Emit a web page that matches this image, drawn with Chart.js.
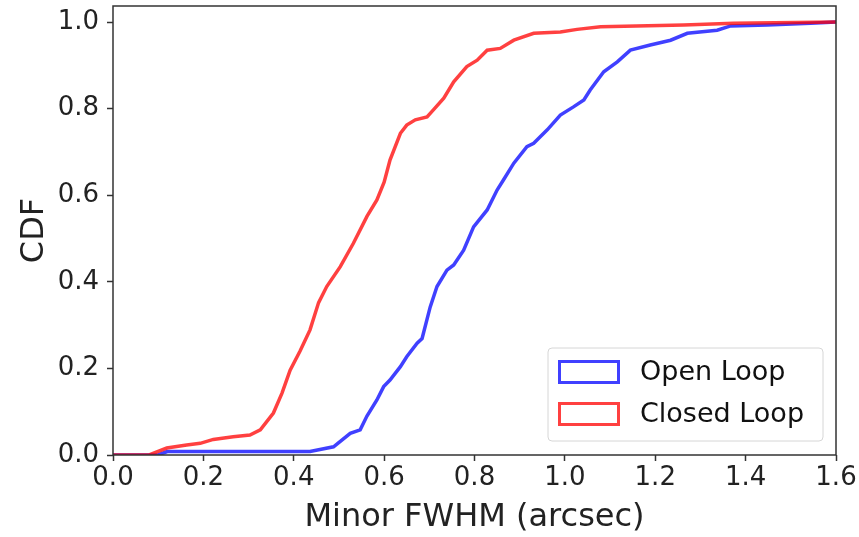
<!DOCTYPE html>
<html>
<head>
<meta charset="utf-8">
<script src="https://cdn.jsdelivr.net/npm/chart.js@4/dist/chart.umd.min.js"></script>
<style>
  body { margin: 0; background: #fff; }
  canvas { display: block; }
</style>
</head>
<body>
<canvas id="cdfChart" width="859" height="537"></canvas>
<script>
// values
let openLoopX = [0, 0.10, 0.12, 0.436, 0.488, 0.525, 0.547, 0.562, 0.584, 0.599, 0.613, 0.636, 0.650, 0.673, 0.684, 0.702, 0.717, 0.739, 0.754, 0.776, 0.798, 0.828, 0.850, 0.864, 0.887, 0.916, 0.931, 0.961, 0.990, 1.019, 1.042, 1.056, 1.086, 1.116, 1.145, 1.189, 1.234, 1.271, 1.337, 1.367, 1.448, 1.544, 1.60];
let openLoopCdf = [0, 0, 0.008, 0.008, 0.019, 0.050, 0.058, 0.090, 0.127, 0.158, 0.173, 0.204, 0.227, 0.258, 0.269, 0.342, 0.389, 0.427, 0.439, 0.473, 0.527, 0.566, 0.612, 0.635, 0.674, 0.712, 0.720, 0.751, 0.785, 0.804, 0.820, 0.843, 0.885, 0.908, 0.935, 0.947, 0.958, 0.974, 0.981, 0.991, 0.993, 0.997, 1.0];

let closedLoopX = [0, 0.08, 0.119, 0.163, 0.193, 0.222, 0.266, 0.303, 0.326, 0.355, 0.374, 0.392, 0.414, 0.436, 0.455, 0.473, 0.503, 0.532, 0.562, 0.584, 0.600, 0.613, 0.636, 0.650, 0.669, 0.695, 0.709, 0.732, 0.754, 0.783, 0.806, 0.828, 0.857, 0.887, 0.931, 0.990, 1.027, 1.079, 1.263, 1.373, 1.60];
let closedLoopCdf = [0, 0, 0.016, 0.023, 0.027, 0.036, 0.042, 0.046, 0.058, 0.097, 0.143, 0.196, 0.240, 0.289, 0.352, 0.389, 0.435, 0.489, 0.551, 0.589, 0.630, 0.681, 0.743, 0.762, 0.774, 0.781, 0.797, 0.824, 0.862, 0.897, 0.912, 0.935, 0.939, 0.958, 0.974, 0.977, 0.983, 0.989, 0.993, 0.997, 1.0];

let xTicks = [0, 0.2, 0.4, 0.6, 0.8, 1.0, 1.2, 1.4, 1.6];
let yTicks = [0, 0.2, 0.4, 0.6, 0.8, 1.0];

const FONT = "'DejaVu Sans', sans-serif";

function toPoints(xs, ys) {
    return xs.map((x, i) => ({ x: x, y: ys[i] }));
}

// matplotlib style frame round the plot area
const framePlugin = {
    id: 'frame',
    afterDraw(chart) {
        const { ctx, chartArea: a } = chart;
        ctx.save();
        ctx.strokeStyle = '#333';
        ctx.lineWidth = 1.5;
        ctx.strokeRect(a.left, a.top, a.right - a.left, a.bottom - a.top);
        ctx.restore();
    }
};

// legend box in the lower right corner, inside the axes
const insideLegend = {
    id: 'insideLegend',
    afterDraw(chart) {
        const ctx = chart.ctx;
        const bx = 548, by = 348, bw = 275, bh = 93;
        ctx.save();
        ctx.beginPath();
        ctx.roundRect(bx, by, bw, bh, 4);
        ctx.fillStyle = 'rgba(255,255,255,0.8)';
        ctx.fill();
        ctx.strokeStyle = '#d6d6d6';
        ctx.lineWidth = 1;
        ctx.stroke();

        ctx.font = '27px ' + FONT;
        ctx.textBaseline = 'middle';
        chart.data.datasets.forEach((ds, i) => {
            const cy = 372 + i * 42;
            ctx.strokeStyle = ds.borderColor;
            ctx.lineWidth = 3;
            ctx.strokeRect(559.5, cy - 10.5, 59, 21);
            ctx.fillStyle = '#111';
            ctx.fillText(ds.label, 640, cy + 1);
        });
        ctx.restore();
    }
};

const ctx = document.getElementById('cdfChart').getContext('2d');
const chart = new Chart(ctx, {
    type: 'line',
    data: {
        datasets: [{
            label: 'Open Loop',
            data: toPoints(openLoopX, openLoopCdf),
            borderColor: 'rgba(0,0,255,0.75)',
            borderWidth: 3.5,
            pointRadius: 0,
            tension: 0,
            fill: false,
            order: 1
        }, {
            label: 'Closed Loop',
            data: toPoints(closedLoopX, closedLoopCdf),
            borderColor: 'rgba(255,0,0,0.75)',
            borderWidth: 3.5,
            pointRadius: 0,
            tension: 0,
            fill: false,
            order: 0
        }]
    },
    options: {
        responsive: false,
        animation: false,
        layout: { padding: { left: 0, top: 6, right: 23, bottom: 0 } },
        plugins: {
            legend: { display: false },
            tooltip: { enabled: false }
        },
        scales: {
            x: {
                type: 'linear',
                min: 0,
                max: 1.6,
                afterBuildTicks: (scale) => { scale.ticks = xTicks.map(v => ({ value: v })); },
                afterFit: (scale) => {
                    scale.height = 82;
                    scale.paddingLeft = 0;
                    scale.paddingRight = 0;
                },
                grid: { drawOnChartArea: false, drawTicks: true, tickLength: 6, tickWidth: 1.5, color: '#333' },
                border: { display: false },
                ticks: {
                    padding: 2,
                    color: '#222',
                    font: { family: FONT, size: 26 },
                    maxRotation: 0,
                    callback: (v) => v.toFixed(1)
                },
                title: {
                    display: true,
                    text: 'Minor FWHM (arcsec)',
                    color: '#222',
                    font: { family: FONT, size: 32 },
                    padding: { top: 0, bottom: 0 }
                }
            },
            y: {
                type: 'linear',
                min: 0,
                max: 1.037,
                afterBuildTicks: (scale) => { scale.ticks = yTicks.map(v => ({ value: v })); },
                afterFit: (scale) => {
                    scale.width = 113;
                    scale.paddingTop = 0;
                    scale.paddingBottom = 0;
                },
                grid: { drawOnChartArea: false, drawTicks: true, tickLength: 6, tickWidth: 1.5, color: '#333' },
                border: { display: false },
                ticks: {
                    padding: 8,
                    color: '#222',
                    font: { family: FONT, size: 26 },
                    callback: (v) => v.toFixed(1)
                },
                title: {
                    display: true,
                    text: 'CDF',
                    color: '#222',
                    font: { family: FONT, size: 32 },
                    padding: { top: 15, bottom: 0 }
                }
            }
        }
    },
    plugins: [framePlugin, insideLegend]
});
</script>
</body>
</html>
